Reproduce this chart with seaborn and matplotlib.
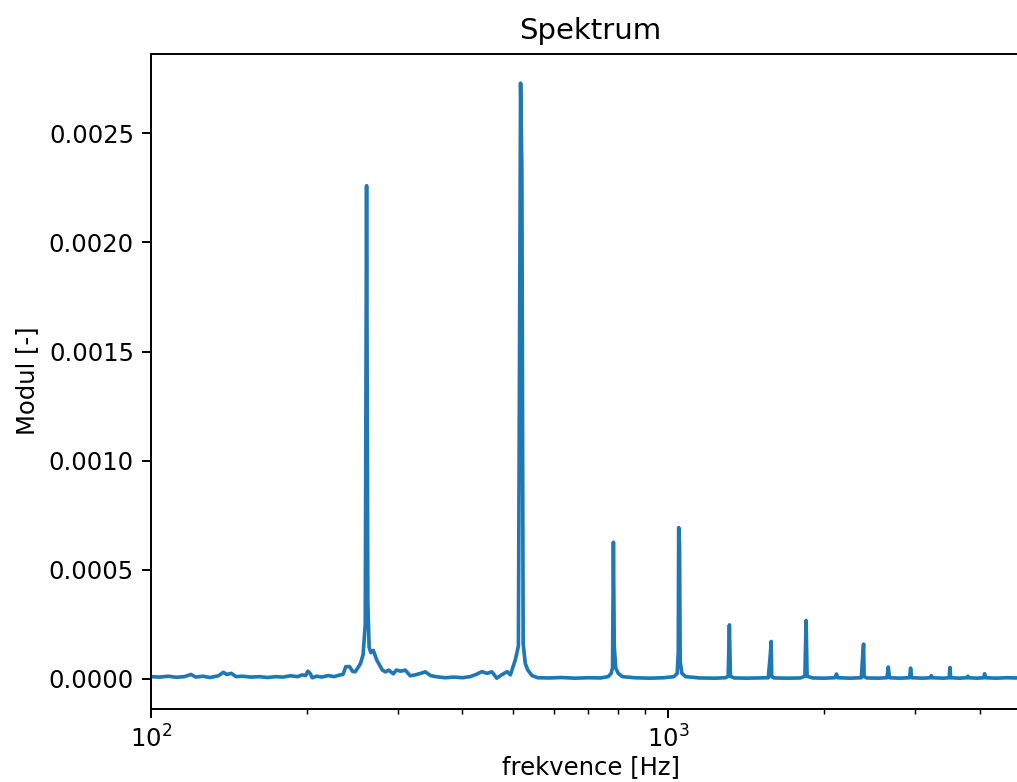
import numpy as np
import pandas as pd
import matplotlib
matplotlib.use("Agg")
import matplotlib.pyplot as plt
import seaborn as sns

# spectrum (frequency in Hz, magnitude [-])
freq_hz = [
    100, 104, 108, 112, 116, 119.5, 122, 126, 130, 135, 138, 140, 143, 146,
    150, 156, 162, 168, 174, 180, 186, 192, 196, 199, 201, 203, 205, 209,
    214, 220, 226, 232, 235, 238, 242, 245, 248, 251, 254, 257, 259.5, 261,
    262.5, 264, 266, 269, 273, 277, 280, 284, 288, 294, 298, 304, 310, 317,
    324, 332, 339, 347, 355, 370, 385, 400, 414, 425, 436, 446, 456, 466,
    476, 488, 495, 506, 513, 518, 521, 524, 529, 535, 545, 559, 590, 620,
    660, 700, 740, 765, 775, 780, 783, 786, 791, 800, 815, 860, 920, 980,
    1025, 1040, 1045, 1047, 1051, 1054, 1062, 1080, 1150, 1230, 1290, 1305,
    1312, 1318, 1340, 1420, 1500, 1560, 1574, 1580, 1584, 1600, 1700, 1800,
    1836, 1846, 1854, 1900, 2000, 2100, 2113, 2125, 2250, 2360, 2378, 2384,
    2390, 2420, 2550, 2645, 2661, 2675, 2800, 2925, 2939, 2952, 3100, 3210,
    3222, 3235, 3400, 3490, 3501, 3512, 3650, 3780, 3792, 3805, 3950, 4070,
    4085, 4100, 4300, 4500, 4700, 4900, 5000,
]
modul = [
    1.0e-5, 0.8e-5, 1.2e-5, 0.7e-5, 1.0e-5, 2.0e-5, 0.8e-5, 1.2e-5, 0.6e-5,
    1.4e-5, 3.0e-5, 2.0e-5, 2.5e-5, 1.0e-5, 1.2e-5, 0.8e-5, 1.0e-5, 0.6e-5,
    1.0e-5, 0.8e-5, 1.4e-5, 1.0e-5, 1.8e-5, 1.5e-5, 3.5e-5, 2.5e-5, 0.5e-5,
    1.2e-5, 0.8e-5, 1.5e-5, 1.0e-5, 1.8e-5, 2.0e-5, 5.6e-5, 5.6e-5, 3.5e-5,
    3.2e-5, 5.0e-5, 7.0e-5, 1.1e-4, 2.5e-4, 2.26e-3, 3.5e-4, 1.45e-4,
    1.2e-4, 1.3e-4, 8.7e-5, 6.0e-5, 4.0e-5, 3.2e-5, 4.0e-5, 2.3e-5, 4.0e-5,
    3.5e-5, 4.0e-5, 1.4e-5, 1.8e-5, 2.5e-5, 3.2e-5, 1.5e-5, 1.0e-5, 0.5e-5,
    0.8e-5, 0.5e-5, 1.0e-5, 2.0e-5, 3.3e-5, 2.5e-5, 3.2e-5, 0.3e-5, 1.8e-5,
    3.3e-5, 1.8e-5, 8.7e-5, 1.5e-4, 2.73e-3, 2.34e-3, 1.6e-4, 7.0e-5,
    4.0e-5, 1.5e-5, 0.5e-5, 0.4e-5, 0.6e-5, 0.3e-5, 0.5e-5, 0.4e-5, 1.0e-5,
    2.5e-5, 5.0e-5, 6.26e-4, 1.5e-4, 5.0e-5, 2.5e-5, 1.0e-5, 0.5e-5,
    0.3e-5, 0.5e-5, 1.0e-5, 2.5e-5, 1.2e-4, 6.93e-4, 6.1e-4, 8.0e-5,
    2.5e-5, 1.0e-5, 0.4e-5, 0.3e-5, 0.5e-5, 1.2e-5, 2.47e-4, 1.2e-5,
    0.4e-5, 0.3e-5, 0.4e-5, 0.5e-5, 1.1e-4, 1.71e-4, 1.0e-5, 0.4e-5,
    0.3e-5, 0.4e-5, 1.2e-5, 2.67e-4, 1.2e-5, 0.4e-5, 0.3e-5, 0.5e-5,
    2.2e-5, 0.5e-5, 0.3e-5, 0.5e-5, 1.3e-4, 1.59e-4, 1.0e-5, 0.4e-5,
    0.3e-5, 0.5e-5, 5.4e-5, 0.5e-5, 0.3e-5, 0.5e-5, 4.9e-5, 0.5e-5, 0.3e-5,
    0.5e-5, 1.5e-5, 0.5e-5, 0.3e-5, 0.5e-5, 5.2e-5, 0.5e-5, 0.3e-5, 0.5e-5,
    1.2e-5, 0.5e-5, 0.3e-5, 0.5e-5, 2.3e-5, 0.5e-5, 0.3e-5, 0.5e-5, 0.4e-5,
    0.8e-5, 0.5e-5,
]

df = pd.DataFrame({"frekvence": freq_hz, "modul": modul})

W, H, DPI = 1017, 782, 175
fig = plt.figure(figsize=(W / DPI, H / DPI), dpi=DPI)
# axes run a little past the right edge, like the cropped original
ax = fig.add_axes([151 / W, 1 - 708.5 / H, (1030 - 151) / W, (708.5 - 53.7) / H])

sns.lineplot(data=df, x="frekvence", y="modul", ax=ax, color="#1f77b4",
             linewidth=1.5, sort=True, estimator=None)

ax.set_xscale("log")
ax.set_xlim(100, 5000)
ax.set_ylim(-0.000136, 0.002865)
ax.set_yticks([0.0, 0.0005, 0.0010, 0.0015, 0.0020, 0.0025])
ax.set_yticklabels(["0.0000", "0.0005", "0.0010", "0.0015", "0.0020", "0.0025"])

ax.set_title("Spektrum")
ax.set_xlabel("frekvence [Hz]", labelpad=1)
ax.set_ylabel("Modul [-]")

fig.savefig("out.png", dpi=DPI)
